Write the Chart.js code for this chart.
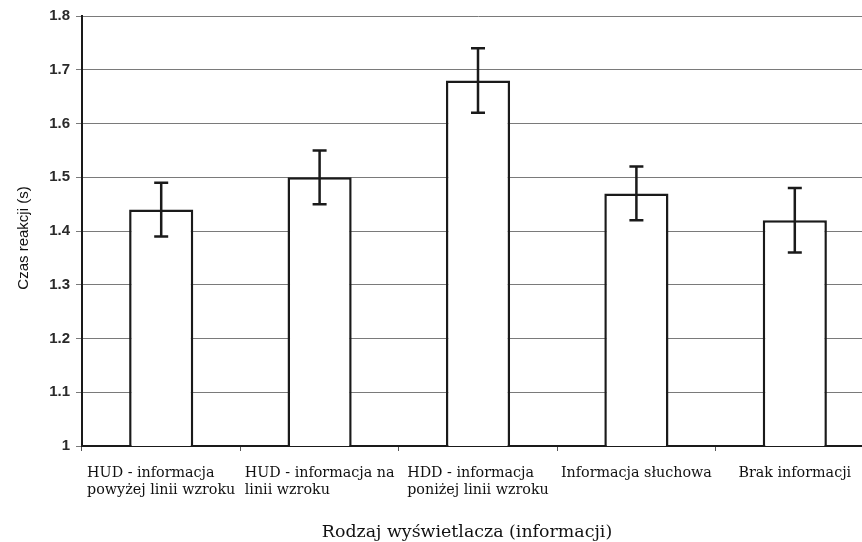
<!DOCTYPE html>
<html>
<head>
<meta charset="utf-8">
<script src="https://cdn.jsdelivr.net/npm/chart.js@4"></script>
<style>
html, body { margin: 0; padding: 0; overflow: hidden; background: #fff; }
#wrap { width: 882px; height: 542px; position: relative; }
</style>
</head>
<body>
<div id="wrap"><canvas id="reactionChart"></canvas></div>
<script>
// categories (one array of lines per bar)
const categories = [
    ['HUD - informacja', 'powyżej linii wzroku'],
    ['HUD - informacja na', 'linii wzroku'],
    ['HDD - informacja', 'poniżej linii wzroku'],
    ['Informacja słuchowa'],
    ['Brak informacji']
];
const reactionTimes = [1.44, 1.50, 1.68, 1.47, 1.42];
const errLow = [1.39, 1.45, 1.62, 1.42, 1.36];
const errHigh = [1.49, 1.55, 1.74, 1.52, 1.48];
const yTickLabels = ['1', '1.1', '1.2', '1.3', '1.4', '1.5', '1.6', '1.7', '1.8'];
const xTitle = 'Rodzaj wyświetlacza (informacji)';
const yTitle = 'Czas reakcji (s)';

const ink = '#1a1a1a';
const serifFont = '"DejaVu Serif", serif';

// error bars drawn through the scales
const errorBars = {
    id: 'errorBars',
    afterDatasetsDraw(chart) {
        const ctx = chart.ctx;
        const xs = chart.scales.x;
        const ys = chart.scales.y;
        ctx.save();
        ctx.strokeStyle = ink;
        ctx.lineWidth = 2.5;
        errLow.forEach((lo, i) => {
            const x = xs.getPixelForValue(i);
            const yLo = ys.getPixelForValue(lo);
            const yHi = ys.getPixelForValue(errHigh[i]);
            ctx.beginPath();
            ctx.moveTo(x, yLo); ctx.lineTo(x, yHi);
            ctx.moveTo(x - 7, yLo); ctx.lineTo(x + 7, yLo);
            ctx.moveTo(x - 7, yHi); ctx.lineTo(x + 7, yHi);
            ctx.stroke();
        });
        ctx.restore();
    }
};

// category labels: block centred on the bar, lines left aligned
const labelsAndTitles = {
    id: 'labelsAndTitles',
    afterDraw(chart) {
        const ctx = chart.ctx;
        const xs = chart.scales.x;
        const area = chart.chartArea;
        ctx.save();
        ctx.fillStyle = '#111';
        ctx.font = '14.3px ' + serifFont;
        ctx.textAlign = 'left';
        ctx.textBaseline = 'alphabetic';
        categories.forEach((lines, i) => {
            const x = xs.getPixelForValue(i);
            const w = Math.max(...lines.map(l => ctx.measureText(l).width));
            lines.forEach((line, k) => {
                ctx.fillText(line, x - w / 2, area.bottom + 31 + k * 17);
            });
        });

        // x title
        ctx.font = '17.4px ' + serifFont;
        ctx.textAlign = 'center';
        ctx.fillText(xTitle, (area.left + area.right) / 2 - 11, area.bottom + 91);

        // y title
        ctx.font = '15px "Liberation Sans", Arial, sans-serif';
        ctx.translate(28, (area.top + area.bottom) / 2 + 7);
        ctx.rotate(-Math.PI / 2);
        ctx.fillText(yTitle, 0, 0);
        ctx.restore();
    }
};

new Chart(document.getElementById('reactionChart'), {
    type: 'bar',
    data: {
        labels: categories.map(c => c.join(' ')),
        datasets: [{
            data: reactionTimes,
            backgroundColor: '#ffffff',
            borderColor: ink,
            borderWidth: 2.5,
            borderSkipped: 'bottom',
            barPercentage: 0.405,
            categoryPercentage: 1
        }]
    },
    options: {
        responsive: true,
        maintainAspectRatio: false,
        animation: false,
        layout: { padding: { top: 16, right: 8, left: 0, bottom: 0 } },
        plugins: {
            legend: { display: false },
            tooltip: { enabled: false }
        },
        scales: {
            x: {
                grid: {
                    offset: true,
                    drawOnChartArea: false,
                    drawTicks: true,
                    tickLength: 5,
                    color: '#555',
                    lineWidth: 1
                },
                border: { color: ink, width: 2 },
                ticks: { display: false },
                afterFit: (scale) => { scale.height = 96; }
            },
            y: {
                min: 1,
                max: 1.8,
                grid: { color: '#7a7a7a', lineWidth: 1, tickLength: 6 },
                border: { color: ink, width: 2 },
                ticks: {
                    stepSize: 0.1,
                    color: '#2a2a2a',
                    padding: 6,
                    font: { family: '"Liberation Sans", Arial, sans-serif', size: 15, weight: 'bold' },
                    callback: (value, index) => yTickLabels[index]
                },
                afterFit: (scale) => { scale.width = 82; }
            }
        }
    },
    plugins: [errorBars, labelsAndTitles]
});
</script>
</body>
</html>
